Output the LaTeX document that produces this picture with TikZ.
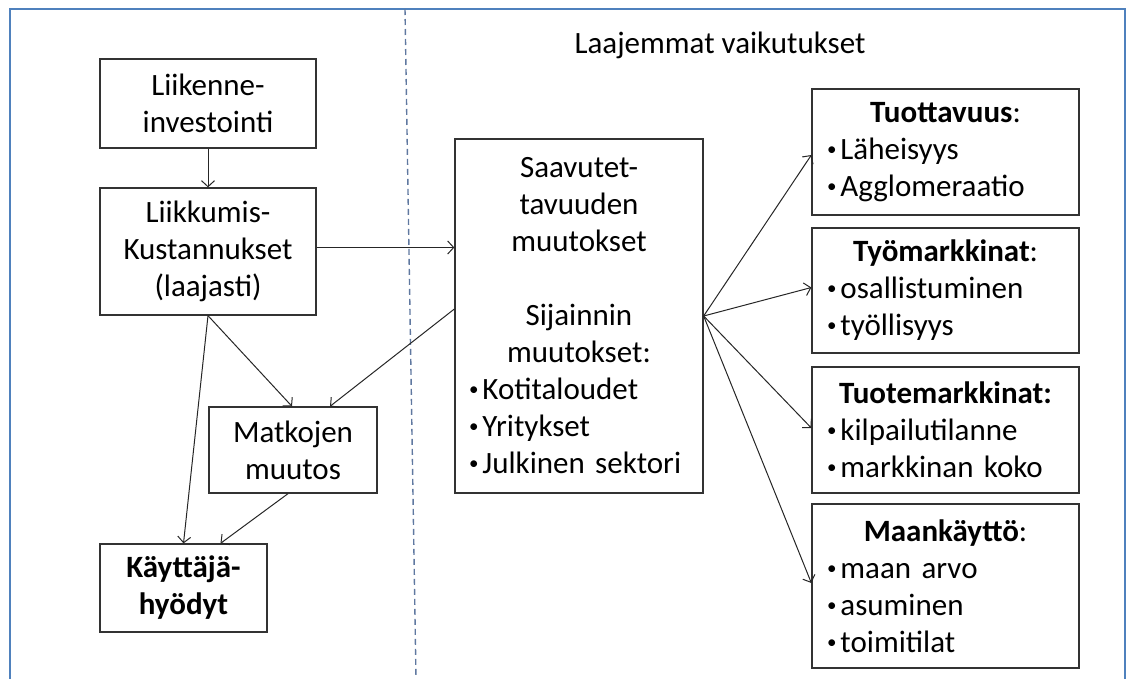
\documentclass[tikz,border=0pt]{standalone}
\usepackage{fontspec}
\setmainfont{Carlito}
\usetikzlibrary{arrows.meta,positioning}
\definecolor{frameblue}{RGB}{79,129,189}
\definecolor{dashblue}{RGB}{95,120,160}
\newcommand{\itm}[1]{\hspace{1pt}\raisebox{4pt}{\fontsize{19}{19}\selectfont•}\hspace{4pt}#1}
\newcommand{\hd}[1]{\makebox[\hsize]{#1}}
\tikzset{
  box/.style={draw=black!80, line width=1.3pt, inner sep=0pt, align=center,
    font=\fontsize{31}{37}\selectfont},
  listbox/.style={box, align=left, inner xsep=14pt, text width=#1},
  link/.style={->, line width=1pt, draw=black!85}
}
\begin{document}
\begin{tikzpicture}[x=1pt,y=-1pt,>={Straight Barb[length=6pt,width=13pt]}]
    \useasboundingbox (0,0) rectangle (1134,678);
    \begin{scope}
      \clip (0,0) rectangle (1134,678);
      \draw[frameblue, line width=2.5pt] (10,9) rectangle (1125,720);
    \end{scope}
    \draw[dashblue, line width=1.4pt, dash pattern=on 6pt off 4pt] (405,9) -- (416,678);
    \node[anchor=base, font=\fontsize{31}{37}\selectfont] (otsikko) at (720,53) {Laajemmat vaikutukset};
    % vasen puoli
    \node[box, minimum width=216, minimum height=89] (inv) at (208,103.5) {Liikenne-\\investointi};
    \node[box, minimum width=216, minimum height=127] (kust) at (208,251.5) {Liikkumis-\\Kustannukset\\(laajasti)};
    \node[box, minimum width=168, minimum height=86] (matk) at (293,450) {Matkojen\\muutos};
    \node[box, minimum width=167, minimum height=88] (kayt) at (183.5,588) {\textbf{Käyttäjä-}\\\textbf{hyödyt}};
    % keskiosa
    \node[listbox=222, inner xsep=13pt, minimum height=354] (saav) at (579,316)
      {\hd{Saavutet-}\\\hd{tavuuden}\\\hd{muutokset}\\[37pt]\hd{Sijainnin}\\\hd{muutokset:}\\
       \itm{Kotitaloudet}\\\itm{Yritykset}\\\itm{Julkinen sektori}};
    % oikea puoli
    \node[listbox=239, minimum height=126] (tuot) at (945.5,152)
      {\hd{\textbf{Tuottavuus}:}\\\itm{Läheisyys}\\\itm{Agglomeraatio}};
    \node[listbox=239, minimum height=125] (tyom) at (945.5,290.5)
      {\hd{\textbf{Työmarkkinat}:}\\\itm{osallistuminen}\\\itm{työllisyys}};
    \node[listbox=239, minimum height=126] (tmar) at (945.5,430)
      {\hd{\textbf{Tuotemarkkinat:}}\\\itm{kilpailutilanne}\\\itm{markkinan koko}};
    \node[listbox=239, minimum height=164] (maan) at (945.5,586)
      {\hd{\textbf{Maankäyttö}:}\\\itm{maan arvo}\\\itm{asuminen}\\\itm{toimitilat}};
    % nuolet
    \draw[link] (inv.south) -- (kust.north);
    \draw[link] ([yshift=4pt]kust.east) -- ([yshift=4pt]kust.east -| saav.west);
    \draw[link] (kust.south) -- (kayt.north);
    \draw[link] (kust.south) -- ([xshift=-1pt]matk.north);
    \draw[link] ([yshift=7pt]saav.west) -- ([xshift=37pt]matk.north);
    \draw[link] ([xshift=-5pt]matk.south) -- ([xshift=37pt]kayt.north);
    \draw[link] (saav.east) -- ([yshift=-3pt]tuot.west);
    \draw[link] (saav.east) -- ([yshift=3pt]tyom.west);
    \draw[link] (saav.east) -- ([yshift=2pt]tmar.west);
    \draw[link] (saav.east) -- ([yshift=3pt]maan.west);
  \end{tikzpicture}
\end{document}
